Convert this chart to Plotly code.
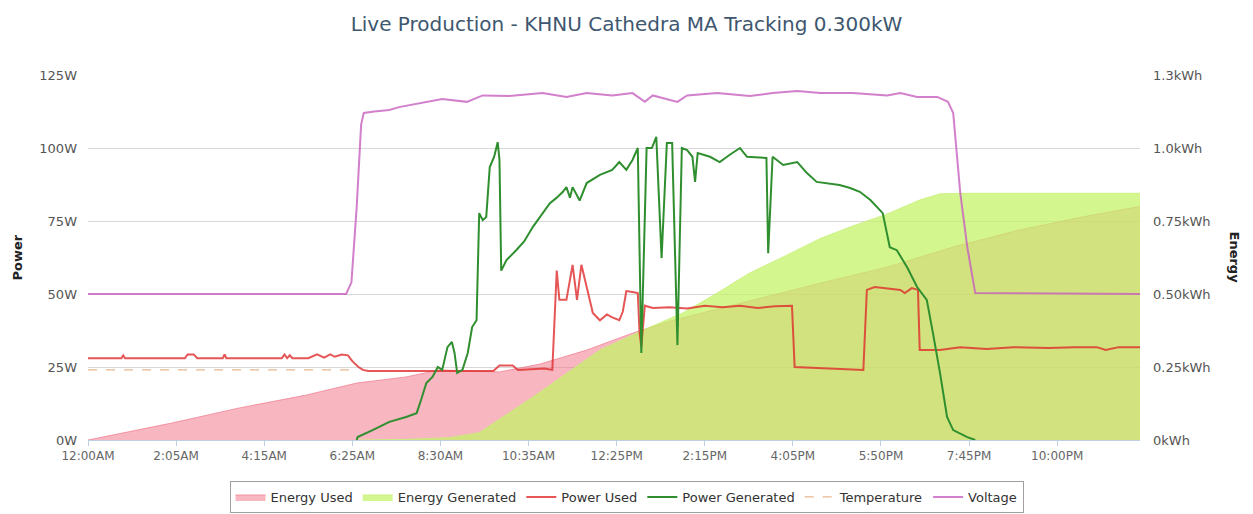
import plotly.graph_objects as go

# ---- x axis: positions in tick-interval units (tick i = label i) ----
tick_labels = ["12:00AM", "2:05AM", "4:15AM", "6:25AM", "8:30AM", "10:35AM",
               "12:25PM", "2:15PM", "4:05PM", "5:50PM", "7:45PM", "10:00PM"]
x_end = 11.94

# ---- Energy (kWh, right axis) ----
energy_used_x = [0, 0.95, 1.72, 2.48, 3.05, 3.61, 3.99, 4.67, 5.13, 5.66, 6.18, 6.64,
                 8.31, 9.07, 9.82, 10.58, 11.34, 11.94]
energy_used_kwh = [0, 0.058, 0.11, 0.154, 0.195, 0.216, 0.24, 0.233, 0.26, 0.308, 0.366, 0.41,
                   0.537, 0.592, 0.661, 0.72, 0.767, 0.80]

energy_gen_x = [3.05, 3.6, 4.10, 4.44, 5.05, 5.81, 6.38, 6.75, 7.14, 7.51, 7.89, 8.31,
                8.68, 9.07, 9.44, 9.67, 9.9, 11.94]
energy_gen_kwh = [0, 0.002, 0.008, 0.025, 0.147, 0.308, 0.387, 0.435, 0.503, 0.572, 0.627, 0.69,
                  0.733, 0.774, 0.822, 0.843, 0.845, 0.845]

# ---- Power (W, left axis) ----
power_used_x = [0, 0.38, 0.40, 0.42, 1.10, 1.13, 1.20, 1.24, 1.53, 1.55, 1.57, 2.20, 2.23, 2.26,
                2.29, 2.32, 2.50, 2.60, 2.68, 2.75, 2.80, 2.88, 2.95, 3.00, 3.07, 3.12, 3.18,
                4.60, 4.67, 4.82, 4.88, 5.18, 5.27, 5.32, 5.35, 5.43, 5.50, 5.55, 5.60, 5.66,
                5.73, 5.81, 5.89, 5.95, 6.03, 6.07, 6.11, 6.18, 6.24, 6.26, 6.28, 6.32, 6.41,
                6.6, 6.8, 7.0, 7.2, 7.4, 7.6, 7.8, 7.99, 8.02, 8.80, 8.84, 8.93, 9.22, 9.27,
                9.35, 9.42, 9.44, 9.67, 9.9, 10.2, 10.5, 10.9, 11.2, 11.45, 11.55, 11.7, 11.94]
power_used_w = [28, 28, 29, 28, 28, 29.3, 29.3, 28, 28, 29.3, 28, 28, 29.3, 28,
                29, 28, 28, 29.3, 28.2, 29.3, 28.5, 29.3, 29, 27, 25, 24, 23.6,
                23.6, 25.5, 25.5, 24, 24.5, 24, 58, 48, 48, 60, 48, 60, 52,
                43.5, 41, 43, 42, 41, 44, 51, 50.7, 50.3, 36.6, 32, 46, 45.2,
                45.5, 45, 46, 45.5, 46, 45.2, 45.8, 46, 25, 24, 51.4, 52.4, 51.4, 50.3,
                52, 51.4, 30.8, 30.8, 31.8, 31.2, 31.8, 31.5, 31.8, 31.8, 30.8, 31.8, 31.8]

power_gen_x = [3.05, 3.06, 3.23, 3.42, 3.61, 3.73, 3.78, 3.84, 3.91, 3.97, 4.02, 4.08, 4.13,
               4.16, 4.19, 4.25, 4.31, 4.36, 4.41, 4.44, 4.48, 4.52, 4.56, 4.61, 4.65, 4.67,
               4.69, 4.75, 4.86, 4.95, 5.05, 5.15, 5.24, 5.32, 5.39, 5.43, 5.47, 5.50, 5.58,
               5.66, 5.81, 5.95, 6.03, 6.11, 6.18, 6.24, 6.28, 6.34, 6.40, 6.45, 6.51, 6.57,
               6.63, 6.69, 6.74, 6.80, 6.86, 6.89, 6.92, 7.06, 7.17, 7.28, 7.40, 7.48, 7.70,
               7.72, 7.77, 7.89, 8.05, 8.16, 8.27, 8.53, 8.65, 8.76, 8.88, 9.02, 9.10, 9.18,
               9.30, 9.41, 9.52, 9.59, 9.67, 9.75, 9.82, 9.98, 10.07]
power_gen_w = [0, 1.0, 3.4, 6.2, 7.9, 9.2, 13.7, 19.5, 21.6, 25, 24, 31.8, 33.6,
               29.8, 23, 24, 29.8, 38.7, 41, 77.7, 75.3, 76.4, 93.5, 97, 102, 96,
               58, 61.6, 65, 68, 73, 77, 81, 83, 85, 86.6, 83, 86.6, 82,
               88, 90.8, 92.5, 95.2, 92.5, 95.9, 100, 29.8, 100, 100, 103.8, 62.3, 101.7,
               101.7, 32.5, 100, 99.3, 97, 88.4, 98.3, 97, 95.2, 97.6, 100, 97, 96.6,
               64, 97, 94.2, 95.2, 91.4, 88.4, 87.3, 86.3, 85, 82.2, 77.7, 66, 65,
               59, 52.4, 48, 36.6, 23, 7.9, 3.4, 1.0, 0]

temperature_x = [0, 3.05]
temperature_w = [24, 24]

voltage_x = [0, 2.93, 2.99, 3.05, 3.10, 3.13, 3.25, 3.42, 3.53, 3.76, 4.02, 4.30, 4.48, 4.78,
             5.16, 5.43, 5.66, 5.95, 6.18, 6.32, 6.41, 6.69, 6.80, 7.14, 7.51, 7.77, 8.05,
             8.31, 8.68, 9.07, 9.22, 9.41, 9.64, 9.76, 9.82, 9.90, 9.98, 10.07, 11.94]
voltage_w = [50, 50, 54, 80, 108, 112, 112.5, 113, 114, 115.4, 116.8, 115.8, 118, 117.8,
             118.8, 117.5, 118.8, 118, 118.8, 115.8, 118, 115.8, 118, 118.8, 117.8, 118.8, 119.5,
             118.8, 118.8, 118, 118.8, 117.5, 117.5, 115.8, 112, 84.6, 66, 50.3, 50]

power_ticks = [0, 25, 50, 75, 100, 125]
power_tick_text = ["0W", "25W", "50W", "75W", "100W", "125W"]
energy_ticks = [0, 0.25, 0.5, 0.75, 1.0, 1.25]
energy_tick_text = ["0kWh", "0.25kWh", "0.50kWh", "0.75kWh", "1.0kWh", "1.3kWh"]

FONT = "DejaVu Sans"

fig = go.Figure()

# areas on the base (energy) axis, lines on the overlaying (power) axis -> lines on top
fig.add_trace(go.Scatter(
    x=energy_used_x, y=energy_used_kwh, name="Energy Used", yaxis="y",
    mode="lines", fill="tozeroy", fillcolor="rgba(240,110,130,0.5)",
    line=dict(color="rgba(240,120,140,0.7)", width=1), legendrank=1))
fig.add_trace(go.Scatter(
    x=energy_gen_x, y=energy_gen_kwh, name="Energy Generated", yaxis="y",
    mode="lines", fill="tozeroy", fillcolor="rgba(195,242,100,0.72)",
    line=dict(color="rgba(200,240,120,0.8)", width=1), legendrank=2))
fig.add_trace(go.Scatter(
    x=temperature_x, y=temperature_w, name="Temperature", mode="lines", yaxis="y2",
    line=dict(color="#e8b890", width=1.2, dash="dash"), legendrank=5))
fig.add_trace(go.Scatter(
    x=voltage_x, y=voltage_w, name="Voltage", mode="lines", opacity=0.8, yaxis="y2",
    line=dict(color="#c860c0", width=2), legendrank=6))
fig.add_trace(go.Scatter(
    x=power_used_x, y=power_used_w, name="Power Used", mode="lines", opacity=0.8, yaxis="y2",
    line=dict(color="#e02c2c", width=2), legendrank=3))
fig.add_trace(go.Scatter(
    x=power_gen_x, y=power_gen_w, name="Power Generated", mode="lines", yaxis="y2",
    line=dict(color="#2f8f2f", width=2), legendrank=4))

fig.update_layout(
    width=1253, height=514,
    margin=dict(l=88, r=113, t=75, b=74),
    paper_bgcolor="white", plot_bgcolor="white",
    font=dict(family=FONT, size=12, color="#555"),
    showlegend=True,
    title=dict(text="Live Production - KHNU Cathedra MA Tracking 0.300kW",
               x=0.5, xanchor="center", xref="container",
               y=1 - 24 / 514, yanchor="middle", yref="container",
               font=dict(family=FONT, size=20, color="#3e576f")),
    xaxis=dict(range=[0, x_end], tickmode="array", tickvals=list(range(len(tick_labels))),
               ticktext=tick_labels, showgrid=False, zeroline=False,
               showline=True, linecolor="#c0d0e0", linewidth=1,
               ticks="outside", ticklen=5, tickcolor="#c0d0e0",
               tickfont=dict(family=FONT, size=12, color="#666")),
    yaxis=dict(range=[0, 1.25], side="right", tickmode="array",
               tickvals=energy_ticks, ticktext=energy_tick_text, showgrid=False,
               zeroline=False, showline=False, ticks="", ticklabelstandoff=12,
               tickfont=dict(family=FONT, size=13, color="#555")),
    yaxis2=dict(range=[0, 125], overlaying="y", side="left", tickmode="array",
                tickvals=power_ticks, ticktext=power_tick_text, showgrid=True,
                gridcolor="#d8d8d8", gridwidth=1, zeroline=False, showline=False,
                ticks="", ticklabelstandoff=10,
                tickfont=dict(family=FONT, size=13, color="#555")),
    legend=dict(orientation="h", x=0.5, xanchor="center", xref="container",
                y=1 - 481 / 514, yanchor="top", yref="container",
                bordercolor="#a0a0a0", borderwidth=1, bgcolor="white",
                font=dict(family=FONT, size=13, color="#333"),
                itemwidth=30, traceorder="normal"),
    annotations=[
        dict(text="<b>Power</b>", x=0, xref="paper", xanchor="center", xshift=17 - 88,
             y=0.5, yref="paper", yanchor="middle", textangle=-90, showarrow=False,
             font=dict(family=FONT, size=13, color="#222")),
        dict(text="<b>Energy</b>", x=1.0, xref="paper", xanchor="center", xshift=1234 - 1140,
             y=0.5, yref="paper", yanchor="middle", textangle=90, showarrow=False,
             font=dict(family=FONT, size=13, color="#222")),
    ],
)

fig.write_html("out.html", config={"displayModeBar": False},
               post_script="document.body.style.margin='0px';document.body.style.overflow='hidden';")
